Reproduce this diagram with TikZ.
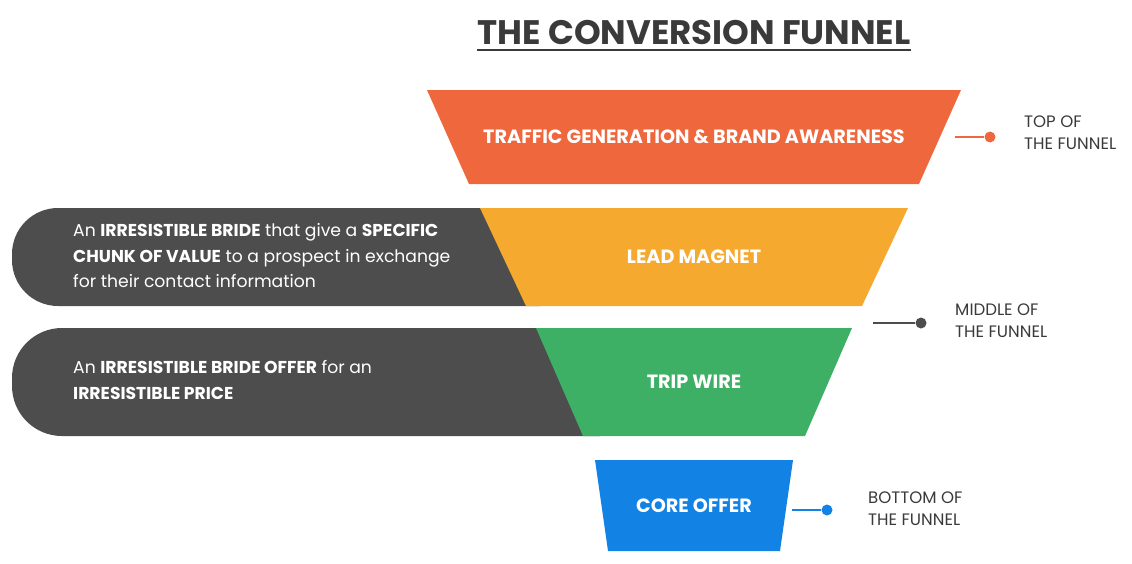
\documentclass[tikz,border=0pt]{standalone}
\usepackage{fontspec}
\setmainfont{Poppins}
\usetikzlibrary{positioning}

\definecolor{funorange}{HTML}{EE673D}
\definecolor{funyellow}{HTML}{F6A92F}
\definecolor{fungreen}{HTML}{3DB065}
\definecolor{funblue}{HTML}{1282E4}
\definecolor{boxgrey}{HTML}{4D4D4D}
\definecolor{labelgrey}{HTML}{3A3A3A}

\begin{document}
\begin{tikzpicture}[
    x=1pt, y=-1pt,
    every node/.style={inner sep=0pt},
    stagetext/.style={text=white, font=\fontsize{19.2}{22}\selectfont\bfseries},
    infotext/.style={text=white, align=left, anchor=west, font=\fontsize{17.2}{25.5}\selectfont},
    sidetext/.style={text=labelgrey, align=left, anchor=west, font=\fontsize{16.6}{22}\selectfont},
    tipdot/.style={circle, fill=#1, minimum size=11pt},
    tipline/.style={draw=#1, line width=1.5pt}
]
    \useasboundingbox (0,0) rectangle (1132,563);
    \def\cx{694}

    % title
    \node[text=labelgrey, font=\fontsize{34}{38}\selectfont\bfseries] (title) at (\cx,33) {THE CONVERSION FUNNEL};
    \draw[labelgrey, line width=2.5pt] ([yshift=-5pt]title.base west) -- ([yshift=-5pt]title.base east);

    % grey info boxes behind the funnel
    \fill[boxgrey] (540,208) [rounded corners=46pt] -- (12,208) -- (12,306) [sharp corners] -- (540,306) -- cycle;
    \fill[boxgrey] (600,328) [rounded corners=50pt] -- (12,328) -- (12,436) [sharp corners] -- (600,436) -- cycle;

    \node[infotext] (leadinfo) at (73,256) {An \textbf{IRRESISTIBLE BRIDE} that give a \textbf{SPECIFIC}\\
        \textbf{CHUNK OF VALUE} to a prospect in exchange\\
        for their contact information};
    \node[infotext] (tripinfo) at (73,380) {An \textbf{IRRESISTIBLE BRIDE OFFER} for an\\
        \textbf{IRRESISTIBLE PRICE}};

    % funnel stages
    \foreach \nm/\yt/\yb/\wt/\wb/\col/\txt in {
        tofu/90/184/267/225/funorange/{TRAFFIC GENERATION \& BRAND AWARENESS},
        lead/208/306/214/168/funyellow/{LEAD MAGNET},
        trip/328/436/158/111/fungreen/{TRIP WIRE},
        core/460/551/99/86/funblue/{CORE OFFER}
    }{
        \fill[\col] (\cx-\wt,\yt) -- (\cx+\wt,\yt) -- (\cx+\wb,\yb) -- (\cx-\wb,\yb) -- cycle;
        \node[stagetext] (\nm) at (\cx,{(\yt+\yb)/2}) {\txt};
    }

    % side markers
    \coordinate (topstart) at (955,137);
    \node[tipdot=funorange] (topdot) at (990,137) {};
    \draw[tipline=funorange] (topstart) -- (topdot);
    \node[sidetext] (toplabel) at (1024,133) {TOP OF\\THE FUNNEL};

    \coordinate (midstart) at (873,323);
    \node[tipdot=boxgrey] (middot) at (921,323) {};
    \draw[tipline=boxgrey] (midstart) -- (middot);
    \node[sidetext] (midlabel) at (955,321) {MIDDLE OF\\THE FUNNEL};

    \coordinate (botstart) at (792,510);
    \node[tipdot=funblue] (botdot) at (827,510) {};
    \draw[tipline=funblue] (botstart) -- (botdot);
    \node[sidetext] (botlabel) at (868,509) {BOTTOM OF\\THE FUNNEL};
\end{tikzpicture}
\end{document}
